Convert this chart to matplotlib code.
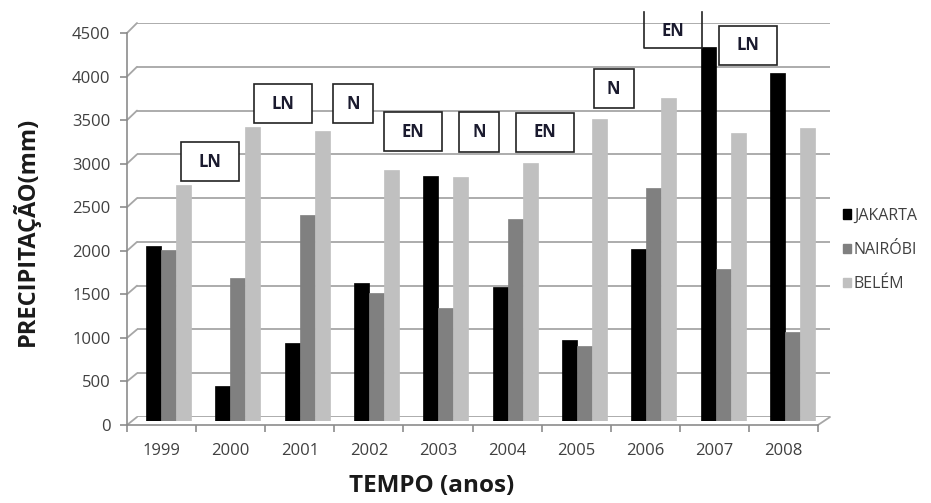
import numpy as np
import matplotlib
matplotlib.use("Agg")
import matplotlib.pyplot as plt
from matplotlib.patches import Rectangle, Patch, ConnectionPatch

plt.rcParams['font.family'] = ['Open Sans', 'DejaVu Sans']

# dados
years = ['1999', '2000', '2001', '2002', '2003', '2004', '2005', '2006', '2007', '2008']
jakarta = [2000, 400, 890, 1580, 2810, 1540, 930, 1970, 4280, 3980]
nairobi = [1960, 1640, 2360, 1460, 1290, 2310, 860, 2670, 1740, 1020]
belem = [2700, 3370, 3320, 2870, 2790, 2950, 3460, 3700, 3300, 3350]
series_names = ['JAKARTA', 'NAIRÓBI', 'BELÉM']

# fases ENSO (caixas de texto)
enso_labels = ['LN', 'LN', 'N', 'EN', 'N', 'EN', 'N', 'EN', 'LN']
enso_x = [0.60, 1.65, 2.66, 3.53, 4.48, 5.43, 6.42, 7.28, 8.36]
enso_y = [2966, 3630, 3630, 3313, 3309, 3306, 3802, 4469, 4302]

colors = ['#000000', '#808080', '#c0c0c0']
grid_c = '#a6a6a6'
W, H = 931, 503

def box(l, b, r, t):
    return [l / W, (H - b) / H, (r - l) / W, (b - t) / H]

fig = plt.figure(figsize=(9.31, 5.03), dpi=100)

# parede do fundo (grades)
ax = fig.add_axes(box(137, 417, 830, 23))
ax.set_xlim(-0.5, 9.5)
ax.set_ylim(0, 4500)
yt = np.arange(0, 4501, 500)
for v in yt:
    ax.axhline(v, color=grid_c, lw=1.3, zorder=0)
ax.axis('off')
ax.patch.set_visible(False)

# barras
axb = fig.add_axes(box(134, 421, 827, 28), zorder=2)
axb.set_xlim(-0.5, 9.5)
axb.set_ylim(0, 4500)
axb.axis('off')
axb.patch.set_visible(False)
x = np.arange(len(years))
bw = 0.216
for i, (vals, c) in enumerate(zip([jakarta, nairobi, belem], colors)):
    axb.bar(x + (i - 1) * bw, vals, width=bw, color=c, edgecolor=c, lw=0.5)

for lab, xc, yc in zip(enso_labels, enso_x, enso_y):
    w = 0.577 if lab == 'N' else 0.837
    h = 447
    if lab == 'EN' and yc > 4400:
        bot, top = 4275, 4687
        axb.plot([xc - w / 2, xc - w / 2, xc + w / 2, xc + w / 2], [top, bot, bot, top],
                 color='#222222', lw=1.2, clip_on=False, zorder=5)
    else:
        axb.add_patch(Rectangle((xc - w / 2, yc - h / 2), w, h, facecolor='white',
                                edgecolor='#222222', lw=1.2, clip_on=False, zorder=5))
    axb.text(xc, yc, lab, ha='center', va='center', fontsize=12, fontweight='bold',
             color='#1a1a2e', zorder=6, clip_on=False)

# eixo frontal
axf = fig.add_axes(box(127, 425, 818, 33), zorder=1)
axf.set_xlim(-0.5, 9.5)
axf.set_ylim(0, 4500)
axf.patch.set_visible(False)
for s in ['top', 'right']:
    axf.spines[s].set_visible(False)
for s in ['left', 'bottom']:
    axf.spines[s].set_color('#8c8c8c')
    axf.spines[s].set_linewidth(1.2)
axf.set_yticks(yt)
axf.tick_params(axis='y', direction='out', length=5, color='#8c8c8c', width=1.2,
                labelsize=12, labelcolor='#404040', pad=7)
axf.set_xticks(x)
axf.set_xticklabels(years)
axf.set_xticks(np.arange(-0.5, 10, 1), minor=True)
axf.tick_params(axis='x', which='major', length=0, labelsize=12, labelcolor='#404040', pad=13)
axf.tick_params(axis='x', which='minor', direction='out', length=5, color='#8c8c8c', width=1.2)

# diagonais da perspectiva
for v in yt:
    fig.add_artist(ConnectionPatch((-0.5, v), (-0.5, v), 'data', 'data', axesA=axf, axesB=ax,
                                   color=grid_c, lw=1.3))
fig.add_artist(ConnectionPatch((9.5, 0), (9.5, 0), 'data', 'data', axesA=axf, axesB=ax,
                               color=grid_c, lw=1.3))

fig.text(26 / W, (H - 231) / H, 'PRECIPITAÇÃO(mm)', rotation=90, ha='center', va='center',
         fontsize=17, fontweight='bold', color='#1a1a1a')
fig.text(432 / W, (H - 486) / H, 'TEMPO (anos)', ha='center', va='center',
         fontsize=17.5, fontweight='bold', color='#1a1a1a')

handles = [Patch(facecolor=c, edgecolor=c) for c in colors]
fig.legend(handles, series_names, loc='center left', bbox_to_anchor=(838 / W, (H - 250) / H),
           frameon=False, fontsize=11.5, handlelength=0.5, handleheight=0.5,
           handletextpad=0.2, labelspacing=1.15, labelcolor='#404040',
           borderaxespad=0, borderpad=0.3)

fig.savefig('out.png', dpi=100, facecolor='white')
